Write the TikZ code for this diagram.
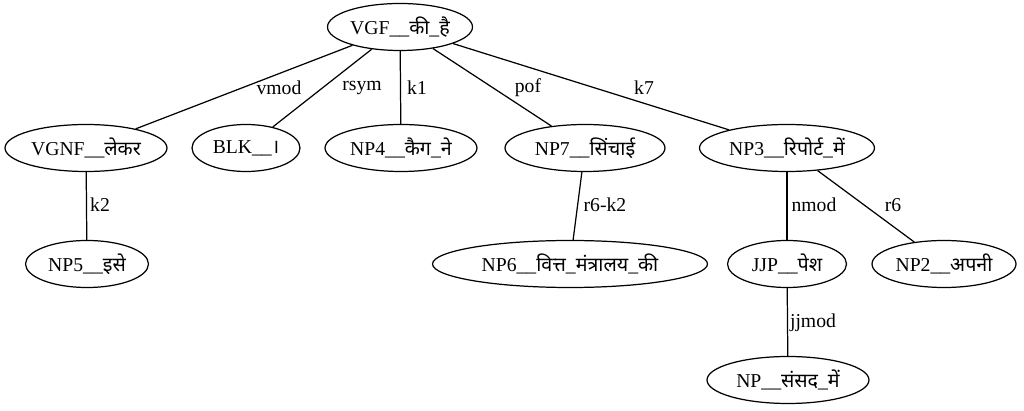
\documentclass[tikz,border=0pt]{standalone}
\usepackage{fontspec}
\setmainfont{Liberation Serif}
\newfontfamily\devfont[Script=Devanagari]{Noto Sans}
\newcommand{\hi}[1]{{\devfont #1}}
\usetikzlibrary{shapes.geometric}
\tikzset{
  tok/.style={draw, ellipse, inner sep=0pt, minimum height=0.94cm, font=\fontsize{11.2}{13}\selectfont},
  rel/.style={inner sep=1pt, font=\fontsize{11.2}{13}\selectfont},
}
\begin{document}
\begin{tikzpicture}[x=0.02cm, y=-0.02cm, line width=0.7pt]
      \useasboundingbox (0,0) rectangle (1024,411);
      % Rangs
      \def\ya{27} \def\yb{148} \def\yc{264} \def\yd{380}
      % Racine
      \node[tok, minimum width=2.9cm] (vgf) at (400,\ya) {VGF\_\_\hi{की}\_\hi{है}};
      % Niveau 1
      \node[tok, minimum width=3.24cm] (vgnf) at (86,\yb) {VGNF\_\_\hi{लेकर}};
      \node[tok, minimum width=2.16cm] (blk) at (246,\yb) {BLK\_\_\hi{।}};
      \node[tok, minimum width=3.04cm] (np4) at (401,\yb) {NP4\_\_\hi{कैग}\_\hi{ने}};
      \node[tok, minimum width=3.2cm] (np7) at (585,\yb) {NP7\_\_\hi{सिंचाई}};
      \node[tok, minimum width=3.5cm] (np3) at (787,\yb) {NP3\_\_\hi{रिपोर्ट}\_\hi{में}};
      % Niveau 2
      \node[tok, minimum width=2.46cm] (np5) at (87,\yc) {NP5\_\_\hi{इसे}};
      \node[tok, minimum width=5.5cm] (np6) at (570,\yc) {NP6\_\_\hi{वित्त}\_\hi{मंत्रालय}\_\hi{की}};
      \node[tok, minimum width=2.38cm] (jjp) at (787,\yc) {JJP\_\_\hi{पेश}};
      \node[tok, minimum width=2.88cm] (np2) at (944,\yc) {NP2\_\_\hi{अपनी}};
      % Niveau 3
      \node[tok, minimum width=3.24cm] (np) at (788,\yd) {NP\_\_\hi{संसद}\_\hi{में}};
      % Arcs
      \draw (vgf) -- (vgnf);
      \draw (vgf) -- (blk);
      \draw (vgf) -- (np4);
      \draw (vgf) -- (np7);
      \draw (vgf) -- (np3);
      \draw (vgnf) -- (np5);
      \draw (np7) -- (np6);
      \draw (np3) -- (jjp);
      \draw (np3) -- (np2);
      \draw (jjp) -- (np);
      % Relations
      \node[rel] (lvmod) at (279,88) {vmod};
      \node[rel] (lrsym) at (362,88) {rsym};
      \node[rel] (lkone) at (417,88) {k1};
      \node[rel] (lpof) at (528,88) {pof};
      \node[rel] (lkseven) at (644,88) {k7};
      \node[rel] (lktwo) at (100,205) {k2};
      \node[rel] (lrsix) at (605,205) {r6-k2};
      \node[rel] (lnmod) at (814,205) {nmod};
      \node[rel] (lrsixb) at (893,205) {r6};
      \node[rel] (ljjmod) at (813,323) {jjmod};
\end{tikzpicture}
\end{document}
